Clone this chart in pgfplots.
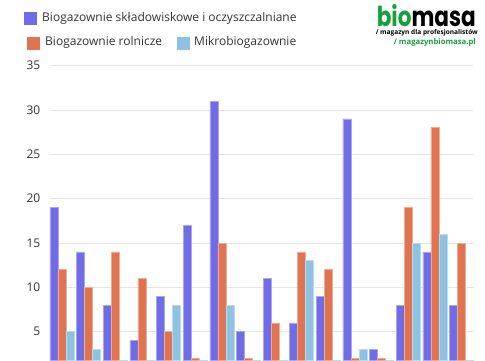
\documentclass[border=0pt]{standalone}
\usepackage{fontspec}
\setmainfont{Open Sans}
\newfontfamily\logofont{Poppins}
\usepackage{pgfplots}
\pgfplotsset{compat=1.18}
\definecolor{cblue}{RGB}{112,108,232}
\definecolor{corange}{RGB}{224,116,80}
\definecolor{clight}{RGB}{142,194,226}
\definecolor{cgreen}{RGB}{22,160,60}
\definecolor{ctext}{RGB}{51,51,51}
\definecolor{cgrid}{RGB}{230,230,230}
\begin{document}
\begin{tikzpicture}[x=1pt,y=1pt]
\path[use as bounding box] (0,0) rectangle (485,360);
\begin{axis}[
 at={(50pt,0pt)}, anchor=south west,
 scale only axis, width=424pt, height=294.4pt,
 xmin=-0.45, xmax=15.47, ymin=1.81, ymax=35,
 ybar=0pt, bar width=8pt,
 axis line style={draw=none},
 xtick=\empty,
 ytick={5,10,...,35},
 ymajorgrids, major grid style={cgrid, line width=0.8pt},
 tick style={draw=none},
 /pgf/number format/assume math mode=true,
 yticklabel style={font=\fontsize{12}{14}\selectfont, text=ctext, inner sep=0pt, xshift=-9.5pt},
]
\addplot[fill=cblue, draw=cblue!60!white, line width=0.5pt] coordinates {
(0,19)(1,14)(2,8)(3,4)(4,9)(5,17)(6,31)(7,5)(8,11)(9,6)(10,9)(11,29)(12,3)(13,8)(14,14)(15,8)};
\addplot[fill=corange, draw=corange!60!white, line width=0.5pt] coordinates {
(0,12)(1,10)(2,14)(3,11)(4,5)(5,2)(6,15)(7,2)(8,6)(9,14)(10,12)(11,2)(12,2)(13,19)(14,28)(15,15)};
\addplot[fill=clight, draw=clight!60!white, line width=0.5pt] coordinates {
(0,5)(1,3)(2,0)(3,0)(4,8)(5,0)(6,8)(7,0)(8,0)(9,13)(10,0)(11,3)(12,0)(13,15)(14,16)(15,0)};
\end{axis}
% legend
\fill[cblue] (24,335.5) rectangle (37,348.5);
\node[anchor=base west, inner sep=0, text=ctext, font=\fontsize{12}{14}\selectfont] at (42,338.7) {Biogazownie składowiskowe i oczyszczalniane};
\fill[corange] (27,310.5) rectangle (40,323.5);
\node[anchor=base west, inner sep=0, text=ctext, font=\fontsize{12}{14}\selectfont] at (45,314.5) {Biogazownie rolnicze};
\fill[clight] (177,310.5) rectangle (190,323.5);
\node[anchor=base west, inner sep=0, text=ctext, font=\fontsize{12}{14}\selectfont] at (194,314.5) {Mikrobiogazownie};
% logo
\node[anchor=base east, inner sep=0] at (476,333.6) {\resizebox{99pt}{22pt}{\logofont\bfseries\textcolor{cgreen}{bio}\textcolor{black}{masa}}};
\node[anchor=base east, inner sep=0] at (478,325.2) {\resizebox{102pt}{!}{\bfseries\fontsize{7}{8}\selectfont / magazyn dla profesjonalistów}};
\node[anchor=base east, inner sep=0] at (476,315.4) {\resizebox{82pt}{!}{\bfseries\fontsize{7}{8}\selectfont\color{cgreen}/ magazynbiomasa.pl}};
\end{tikzpicture}
\end{document}
